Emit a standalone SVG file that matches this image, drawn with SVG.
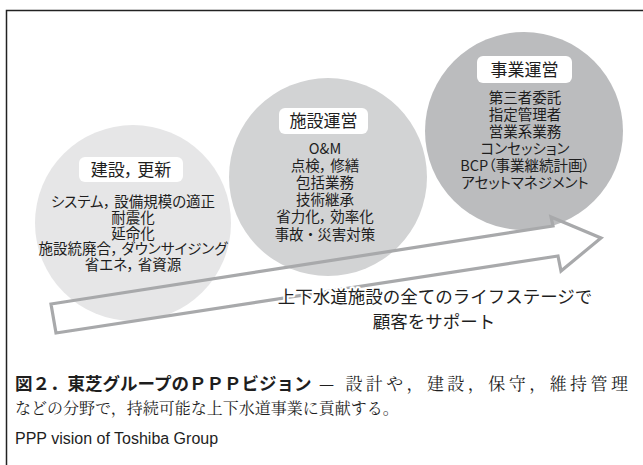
<svg xmlns="http://www.w3.org/2000/svg" width="643" height="465" viewBox="0 0 643 465">
<style>
.frame{fill:none;stroke:#222;stroke-width:1.5}
.jp{font-family:"Noto Sans CJK JP","Noto Sans",sans-serif;fill:#1e1e1e;text-anchor:middle;font-feature-settings:"palt"}
.body{font-size:14.5px}
.lbl{font-size:17px}
.box{fill:#fff}
.arrow{fill:none;stroke:#a8a9ab;stroke-width:3.2;stroke-linejoin:miter}
.halo{paint-order:stroke;stroke:#fff;stroke-width:4;stroke-linejoin:round}
.cap{font-family:"Noto Serif CJK JP","Noto Sans CJK JP",serif;fill:#1e1e1e}
.capb{font-family:"Noto Sans CJK JP",sans-serif;font-weight:bold;fill:#1e1e1e}
.en{font-family:"Liberation Sans",Arial,sans-serif;fill:#1e1e1e}
</style>
<path class="frame" d="M6.5,465 V10.5 H643"/>
<g id="node-kensetsu">
<circle cx="133" cy="223" r="98" fill="#e6e6e7"/>
<rect class="box" x="79" y="157" width="104" height="25" rx="6"/>
<text class="jp lbl" x="131" y="176">建設， 更新</text>
<text class="jp body" x="133" y="207">システム， 設備規模の適正</text>
<text class="jp body" x="133" y="223">耐震化</text>
<text class="jp body" x="133" y="238.5">延命化</text>
<text class="jp body" x="133" y="254">施設統廃合， ダウンサイジング</text>
<text class="jp body" x="133" y="270">省エネ， 省資源</text>
</g>
<g id="node-shisetsu">
<circle cx="328" cy="177" r="99" fill="#d2d3d4"/>
<rect class="box" x="279" y="108" width="89" height="26" rx="6"/>
<text class="jp lbl" x="323.5" y="127">施設運営</text>
<text class="jp body" x="325" y="153.5">O&amp;M</text>
<text class="jp body" x="325" y="170.7">点検， 修繕</text>
<text class="jp body" x="325" y="187.9">包括業務</text>
<text class="jp body" x="325" y="205.1">技術継承</text>
<text class="jp body" x="325" y="222.3">省力化， 効率化</text>
<text class="jp body" x="325" y="239.5">事故 ・ 災害対策</text>
</g>
<g id="node-jigyo">
<circle cx="524" cy="131" r="99" fill="#bbbcbe"/>
<rect class="box" x="477" y="56" width="95" height="27" rx="6"/>
<text class="jp lbl" x="524.5" y="76">事業運営</text>
<text class="jp body" x="525" y="103">第三者委託</text>
<text class="jp body" x="525" y="120">指定管理者</text>
<text class="jp body" x="525" y="137">営業系業務</text>
<text class="jp body" x="525" y="154">コンセッション</text>
<text class="jp body" x="525" y="171">BCP（事業継続計画）</text>
<text class="jp body" x="525" y="188">アセットマネジメント</text>
</g>
<g id="connectors">
<polygon class="arrow" points="51,304 553,226 551,217 601,238 561,271 558,256 56,333"/>
</g>
<g id="arrow-label">
<text class="jp halo" x="435" y="303" style="font-size:17.5px;font-feature-settings:normal">上下水道施設の全てのライフステージで</text>
<text class="jp" x="434" y="328" style="font-size:17.5px;font-feature-settings:normal">顧客をサポート</text>
</g>
<g id="caption">
<text class="capb" x="15" y="390" font-size="17.5">図２．東芝グループのＰＰＰビジョン</text>
<text class="cap" x="319" y="390" font-size="17" textLength="309" lengthAdjust="spacing">— 設計や，建設，保守，維持管理</text>
<text class="cap" x="15" y="414" font-size="16">などの分野で，持続可能な上下水道事業に貢献する。</text>
<text class="en" x="15" y="444" font-size="16">PPP vision of Toshiba Group</text>
</g>
</svg>
